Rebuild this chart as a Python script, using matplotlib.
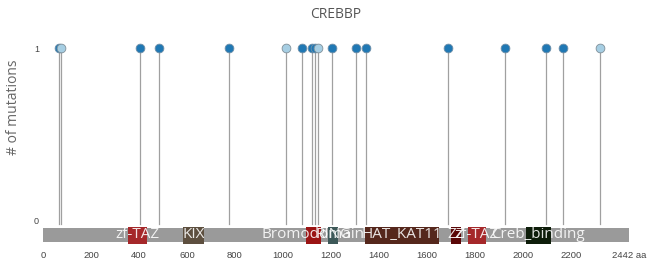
import matplotlib
matplotlib.use("Agg")
import matplotlib.pyplot as plt
from matplotlib.patches import Rectangle

plt.rcParams['font.family'] = ['Open Sans', 'DejaVu Sans']

title = "CREBBP"
protein_length = 2442

# mutation positions (aa) and counts
mut_pos_dark = [65, 404, 485, 774, 1080, 1122, 1132, 1203, 1305, 1347, 1687, 1926, 2097, 2167]
mut_cnt_dark = [1] * len(mut_pos_dark)
mut_pos_light = [75, 1012, 1147, 2320]
mut_cnt_light = [1] * len(mut_pos_light)

# domains
dom_start = [355, 585, 1094, 1189, 1342, 1699, 1770, 2012]
dom_end = [432, 671, 1157, 1230, 1650, 1742, 1846, 2115]
dom_label = ["zf-TAZ", "KIX", "Bromodomain", "RING", "HAT_KAT11", "ZZ", "zf-TAZ", "Creb_binding"]
dom_color = ["#a5282a", "#5d4f3f", "#9b1414", "#3d5858", "#55271c", "#5a0606", "#a5282a", "#0e1d0a"]

xticks = [0, 200, 400, 600, 800, 1000, 1200, 1400, 1600, 1800, 2000, 2200, 2442]
xtick_labels = ["0", "200", "400", "600", "800", "1000", "1200", "1400", "1600", "1800", "2000", "2200", "2442 aa"]

W, H = 647, 266
fig = plt.figure(figsize=(W / 100, H / 100), dpi=100)

ypix1, ypix0 = 48.0, 221.0
scale = ypix0 - ypix1
ax_top_px, ax_bot_px = 30.0, 244.5
ymax = (ypix0 - ax_top_px) / scale
ymin = -(ax_bot_px - ypix0) / scale
ax = fig.add_axes([43 / W, (H - ax_bot_px) / H, 586 / W, (ax_bot_px - ax_top_px) / H])
ax.set_xlim(0, protein_length)
ax.set_ylim(ymin, ymax)
for s in ax.spines.values():
    s.set_visible(False)

def py(p):
    return (ypix0 - p) / scale

# backbone
bar_lo, bar_hi = py(241.7), py(228.3)
ax.add_patch(Rectangle((0, bar_lo), protein_length, bar_hi - bar_lo, facecolor="#9a9a9a",
                       edgecolor="none", zorder=1, clip_on=False))
d_lo, d_hi = py(244.3), py(226.7)
for s, e, c in zip(dom_start, dom_end, dom_color):
    ax.add_patch(Rectangle((s, d_lo), e - s, d_hi - d_lo, facecolor=c, edgecolor="none",
                           zorder=2, clip_on=False))
for s, e, l in zip(dom_start, dom_end, dom_label):
    ax.text((s + e) / 2, (d_lo + d_hi) / 2 + 0.005, l, color="white", fontsize=11, ha="center",
            va="center", zorder=4, clip_on=False, alpha=0.88)

# stems
for p, c in zip(mut_pos_dark + mut_pos_light, mut_cnt_dark + mut_cnt_light):
    ax.plot([p, p], [py(224), c], color="#a0a0a0", lw=0.9, zorder=3, clip_on=False)
ax.plot(mut_pos_dark, mut_cnt_dark, "o", ms=6.3, mfc="#1f78b4", mec="#6f8fa8", mew=0.6,
        zorder=5, clip_on=False)
ax.plot(mut_pos_light, mut_cnt_light, "o", ms=6.3, mfc="#a6cee3", mec="#7f8f99", mew=0.6,
        zorder=6, clip_on=False)

ax.set_yticks([0, 1])
ax.set_yticklabels(["0", "1"], fontsize=6.5, color="#444444", family="Liberation Sans")
ax.tick_params(axis="y", length=0, pad=3)
ax.set_xticks(xticks)
ax.set_xticklabels(xtick_labels, fontsize=6.8, color="#444444", family="Liberation Sans")
ax.tick_params(axis="x", length=0, pad=5)

fig.text(14 / W, 1 - 107 / H, "# of mutations", rotation=90, fontsize=10, color="#666666",
         ha="center", va="center")
fig.text(336 / W, 1 - 15 / H, title, fontsize=10, color="#555555", ha="center", va="center")

fig.savefig("out.png", dpi=100)
